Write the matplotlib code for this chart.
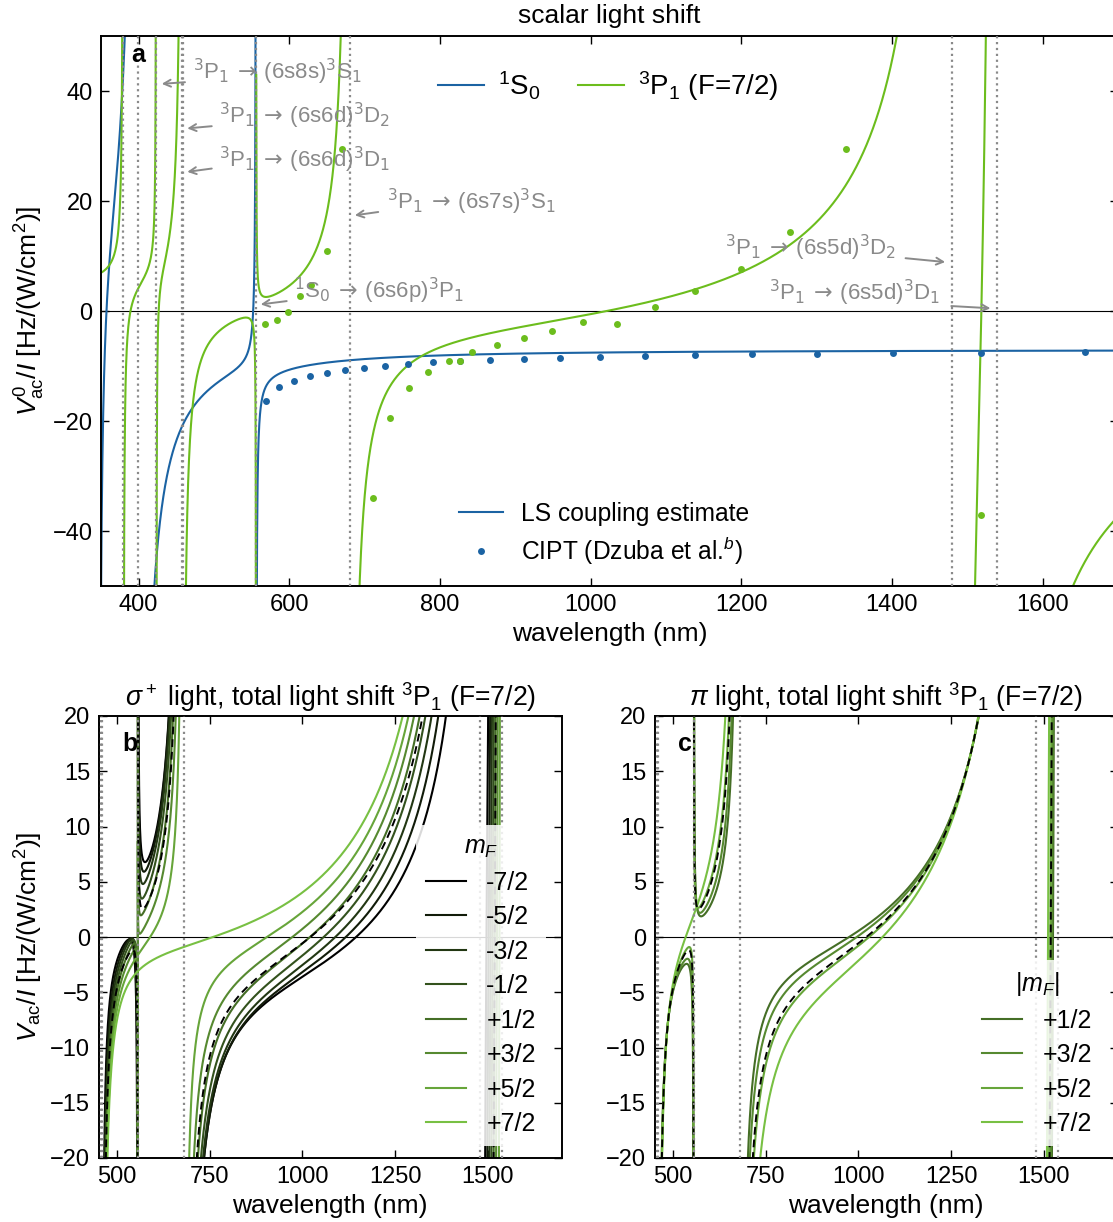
import numpy as np
import matplotlib.pyplot as plt
from math import comb
from matplotlib.lines import Line2D
from matplotlib.colors import LinearSegmentedColormap

plt.rcParams['font.family'] = ['Liberation Sans', 'DejaVu Sans']
plt.rcParams['mathtext.fontset'] = 'custom'
plt.rcParams['mathtext.rm'] = 'Liberation Sans'
plt.rcParams['mathtext.it'] = 'Liberation Sans:italic'
plt.rcParams['mathtext.bf'] = 'Liberation Sans:bold'

# resonances of 1S0 (nm)
s0_lines = [346.4, 398.9, 555.8]
# resonances of 3P1 (nm), J of the other level, fit group, relative LS weight
p1_lines = [379.5, 423.3, 457.7, 458.4, 555.8, 680.1, 1479.0, 1539.0]
p1_jup = [1, 1, 2, 1, 0, 1, 2, 1]
p1_group = [0, 1, 2, 2, 3, 4, 5, 6]
p1_ls = [1, 1, 3, 1, 1, 1, 1, 1]

# points, panel a
s0_trace_lam = [351, 355.3, 357.5, 368.6, 375.2,
                424, 437, 446, 468, 490, 503.5, 530, 543, 548, 552,
                570, 587.6, 623, 680, 755.7, 826, 1200, 1283, 1695]
s0_trace_v = [-35, -7, 0, 20.5, 40.4,
              -37.4, -31, -24.7, -19.5, -16.3, -13.8, -11.3, -10, -7.1, 1,
              -12.7, -10.9, -9.9, -9.0, -8.4, -8.1, -7.1, -7.07, -6.65]
p1_trace_lam = [349, 358, 366.4, 373, 376,
                383.2, 386.2, 390.7, 397.3, 406, 415, 418.6,
                426, 430.5, 437, 446, 451.3,
                468, 472.5, 481, 499, 521, 539, 548, 552,
                563, 574, 592, 614, 636, 654, 663,
                702.6, 716, 733.5, 755.7, 777.7, 822, 866, 977, 1085, 1197, 1283, 1337, 1380, 1404,
                1514, 1518.5, 1523,
                1626, 1640, 1656, 1675, 1693]
p1_trace_v = [4.3, 5.3, 7.2, 15, 31,
              -13.8, -0.5, 3.4, 5.3, 6.6, 9.8, 18,
              0.1, 5.6, 11.6, 20.7, 29.8,
              -24.7, -16.2, -10.2, -4.7, -2.0, -1.0, -1.4, -3.5,
              2.85, 3.2, 4.1, 5.6, 9.8, 17.1, 26.8,
              -37.4, -28.4, -20.5, -13.2, -9.6, -5.6, -3.2, 0.0, 3.2, 7.4, 14.7, 23.8, 38.9, 50,
              -40, 0, 40,
              -50, -46, -40.8, -38, -34.4]

# CIPT values (Dzuba et al.)
cipt_s0_lam = [568.6, 586.7, 606, 627, 649.5, 673.4, 699.5, 727.3, 758, 791, 826.5,
               866, 911, 959, 1012, 1072, 1139, 1214, 1301, 1401, 1518, 1656]
cipt_s0_v = [-16.3, -13.9, -12.8, -11.9, -11.3, -10.8, -10.4, -10.0, -9.6, -9.3, -9.1,
             -8.85, -8.66, -8.48, -8.3, -8.17, -8.0, -7.87, -7.74, -7.62, -7.56, -7.44]
cipt_p1_lam = [567.7, 583, 598.6, 614, 628.7, 649.5, 669.4, 710.5, 733.5, 758.4, 784.4,
               812, 826.5, 843, 876, 911, 949, 990, 1035, 1085, 1139, 1199, 1265, 1339, 1518]
cipt_p1_v = [-2.4, -1.6, -0.1, 2.75, 4.7, 11.0, 29.5, -34.0, -19.4, -14.0, -11.0,
             -9.0, -9.0, -7.5, -6.2, -4.9, -3.6, -2.0, -2.4, 0.8, 3.6, 7.7, 14.4, 29.4, -37.1]

dotted_a = [379.5, 398.9, 423.3, 457.7, 458.4, 555.8, 680.1, 1479.0, 1539.0]
dotted_bc = [457.7, 458.4, 555.8, 680.1, 1479.0, 1539.0]

mf_values = [-3.5, -2.5, -1.5, -0.5, 0.5, 1.5, 2.5, 3.5]
mf_labels = ['-7/2', '-5/2', '-3/2', '-1/2', '+1/2', '+3/2', '+5/2', '+7/2']

BLUE = '#1b63a3'
GREEN = '#6cbd1d'
GRAY = '#8a8a8a'

# relative coupling of mJ = -1, 0, +1 to an upper level J' (average 1)
W_POL = {'sigma': {0: (3.0, 0.0, 0.0), 1: (1.5, 1.5, 0.0), 2: (0.3, 0.9, 1.8)},
         'pi': {0: (0.0, 3.0, 0.0), 1: (1.5, 0.0, 1.5), 2: (0.9, 1.2, 0.9)}}


def pole(lam, line):
    return -1.0 / ((1000.0 / line) ** 2 - (1000.0 / lam) ** 2)


def fit(lam, v, lines, group, ls):
    lam = np.asarray(lam, float)
    v = np.asarray(v, float)
    cols = [np.ones_like(lam), (1000.0 / lam) ** 2]
    for g in range(max(group) + 1):
        cols.append(sum(w * pole(lam, l) for l, gg, w in zip(lines, group, ls) if gg == g))
    A = np.column_stack(cols)
    wt = 1.0 / (4.0 + 0.15 * np.abs(v))
    coef = np.linalg.lstsq(A * wt[:, None], v * wt, rcond=None)[0]
    strengths = [coef[2 + g] * w for g, w in zip(group, ls)]
    return coef[:2], strengths


def cg2(mj, mf):
    mi = mf - mj
    if abs(mi) > 2.5:
        return 0.0
    return comb(2, 1 + mj) * comb(5, int(round(2.5 + mi))) / comb(7, int(round(3.5 + mf)))


def shift(lam, bg, lines, strengths, jup, pol=None, mf=None):
    v = bg[0] + bg[1] * (1000.0 / lam) ** 2
    for l, s, j in zip(lines, strengths, jup):
        w = 1.0 if pol is None else sum(cg2(mj, mf) * W_POL[pol][j][mj + 1] for mj in (-1, 0, 1))
        v = v + s * w * pole(lam, l)
    v[np.abs(v) > 150] = np.nan
    return v


s0_bg, s0_str = fit(s0_trace_lam, s0_trace_v, s0_lines, [0, 1, 2], [1, 1, 1])
p1_bg, p1_str = fit(p1_trace_lam, p1_trace_v, p1_lines, p1_group, p1_ls)

fig = plt.figure(figsize=(11.13, 12.22), dpi=100)
ax_a = fig.add_axes([101 / 1113, 1 - 586 / 1222, 1017 / 1113, 550 / 1222])
ax_b = fig.add_axes([98.5 / 1113, 1 - 1158 / 1222, 463.5 / 1113, 442 / 1222])
ax_c = fig.add_axes([654.5 / 1113, 1 - 1158 / 1222, 463.5 / 1113, 442 / 1222])

for ax in (ax_a, ax_b, ax_c):
    ax.tick_params(direction='in', top=True, right=True, length=6, width=1, labelsize=17, pad=6)
    for sp in ax.spines.values():
        sp.set_linewidth(1.4)
    ax.axhline(0, color='k', lw=0.8, zorder=1)

# ---- panel a ----
lam_a = np.linspace(350, 1700, 6001)
ax_a.plot(lam_a, shift(lam_a, s0_bg, s0_lines, s0_str, [1, 1, 1]), color=BLUE, lw=1.5)
ax_a.plot(lam_a, shift(lam_a, p1_bg, p1_lines, p1_str, p1_jup), color=GREEN, lw=1.5)
ax_a.plot(cipt_s0_lam, cipt_s0_v, 'o', color=BLUE, ms=5, mec='none')
ax_a.plot(cipt_p1_lam, cipt_p1_v, 'o', color=GREEN, ms=5, mec='none')
for l in dotted_a:
    ax_a.axvline(l, color=GRAY, ls=':', lw=1.6, zorder=3)
ax_a.set_xlim(350, 1700)
ax_a.set_ylim(-50, 50)
ax_a.set_xticks([400, 600, 800, 1000, 1200, 1400, 1600])
ax_a.set_yticks([-40, -20, 0, 20, 40])
ax_a.set_xlabel('wavelength (nm)', fontsize=19)
ax_a.set_ylabel(r'$V^0_\mathrm{ac}/I$ [Hz/(W/cm$^2$)]', fontsize=19)
ax_a.set_title('scalar light shift', fontsize=19, pad=9)
ax_a.text(0.037, 0.965, 'a', transform=ax_a.transAxes, fontsize=18, fontweight='bold',
          ha='center', va='center')

notes = [
    (r'$^3$P$_1\,\rightarrow\,$(6s8s)$^3$S$_1$', (472.5, 43.4), 'left', (461.5, 41.6), (430.6, 41.3)),
    (r'$^3$P$_1\,\rightarrow\,$(6s6d)$^3$D$_2$', (506, 35.4), 'left', (497, 33.6), (464.5, 33.2)),
    (r'$^3$P$_1\,\rightarrow\,$(6s6d)$^3$D$_1$', (506, 27.4), 'left', (497, 25.9), (464.5, 25.3)),
    (r'$^3$P$_1\,\rightarrow\,$(6s7s)$^3$S$_1$', (729, 19.8), 'left', (718, 18.0), (687, 17.4)),
    (r'$^1$S$_0\,\rightarrow\,$(6s6p)$^3$P$_1$', (606, 3.6), 'left', (596.5, 1.8), (562, 1.2)),
    (r'$^3$P$_1\,\rightarrow\,$(6s5d)$^3$D$_2$', (1405, 11.4), 'right', (1418, 9.6), (1470.6, 8.9)),
    (r'$^3$P$_1\,\rightarrow\,$(6s5d)$^3$D$_1$', (1463.5, 3.3), 'right', (1478.7, 0.9), (1530.7, 0.5)),
]
for txt, pos, ha, tail, tip in notes:
    ax_a.text(pos[0], pos[1], txt, color=GRAY, fontsize=16, ha=ha, va='center', zorder=4,
              math_fontfamily='dejavusans')
    ax_a.annotate('', xy=tip, xytext=tail, zorder=4,
                  arrowprops=dict(arrowstyle='->,head_length=0.5,head_width=0.25',
                                  color=GRAY, lw=1.4, shrinkA=0, shrinkB=0))

leg1 = ax_a.legend([Line2D([], [], color=BLUE, lw=1.5), Line2D([], [], color=GREEN, lw=1.5)],
                   [r'$^1$S$_0$', r'$^3$P$_1$ (F=7/2)'], ncol=2, loc='upper left',
                   bbox_to_anchor=(0.307, 0.985), frameon=False, fontsize=20,
                   handlelength=1.65, handletextpad=0.5, columnspacing=1.35)
ax_a.add_artist(leg1)
ax_a.legend([Line2D([], [], color=BLUE, lw=1.5),
             Line2D([], [], ls='none', marker='o', color=BLUE, ms=5, mec='none')],
            ['LS coupling estimate', r'CIPT (Dzuba et al.$^b$)'], loc='lower left',
            bbox_to_anchor=(0.33, -0.005), frameon=False, fontsize=17.7,
            handlelength=1.8, handletextpad=0.75, labelspacing=0.35)

# ---- panels b and c ----
cmap = LinearSegmentedColormap.from_list('mf', ['#000000', '#78c043'])
colors = [cmap(i / 7) for i in range(8)]
lam_bc = np.linspace(450, 1700, 5001)
scalar_bc = shift(lam_bc, p1_bg, p1_lines, p1_str, p1_jup)

for mf, c in zip(mf_values, colors):
    ax_b.plot(lam_bc, shift(lam_bc, p1_bg, p1_lines, p1_str, p1_jup, 'sigma', mf), color=c, lw=1.5)
for mf, c in zip(mf_values[4:], colors[4:]):
    ax_c.plot(lam_bc, shift(lam_bc, p1_bg, p1_lines, p1_str, p1_jup, 'pi', mf), color=c, lw=1.5)

for ax in (ax_b, ax_c):
    ax.plot(lam_bc, scalar_bc, color='k', ls=(0, (4, 2.5)), lw=1.4)
    for l in dotted_bc:
        ax.axvline(l, color=GRAY, ls=':', lw=1.6, zorder=3)
    ax.set_xlim(450, 1700)
    ax.set_ylim(-20, 20)
    ax.set_xticks([500, 750, 1000, 1250, 1500])
    ax.set_yticks([-20, -15, -10, -5, 0, 5, 10, 15, 20])
    ax.set_xlabel('wavelength (nm)', fontsize=19)

ax_b.set_ylabel(r'$V_\mathrm{ac}/I$ [Hz/(W/cm$^2$)]', fontsize=19)
ax_b.set_title(r'$\sigma^+$ light, total light shift $^3$P$_1$ (F=7/2)', fontsize=19.2, pad=7)
ax_c.set_title(r'$\pi$ light, total light shift $^3$P$_1$ (F=7/2)', fontsize=19.2, pad=7)
ax_b.text(0.068, 0.937, 'b', transform=ax_b.transAxes, fontsize=18, fontweight='bold',
          ha='center', va='center', zorder=6)
ax_c.text(0.066, 0.937, 'c', transform=ax_c.transAxes, fontsize=18, fontweight='bold',
          ha='center', va='center', zorder=6)

for ax, cols, labels, title in ((ax_b, colors, mf_labels, r'$m_F$'),
                                (ax_c, colors[4:], mf_labels[4:], r'$|m_F|$')):
    ax.legend([Line2D([], [], color=c, lw=1.5) for c in cols], labels,
              title=title, loc='lower right', bbox_to_anchor=(0.965, 0.027),
              borderaxespad=0, fontsize=18, title_fontsize=18, handlelength=1.6,
              handletextpad=0.8, labelspacing=0.42, framealpha=0.85, edgecolor='none',
              fancybox=False)

fig.savefig('out.png', dpi=100)
